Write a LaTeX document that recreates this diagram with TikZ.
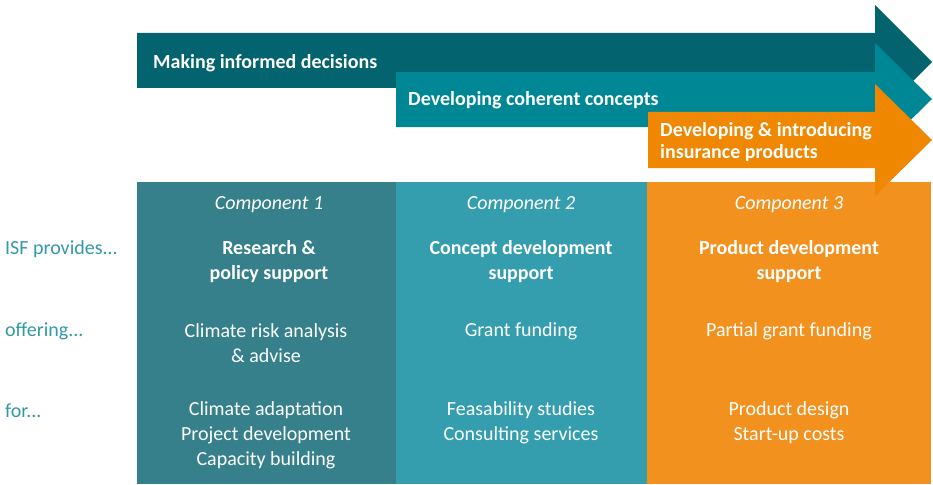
\documentclass[tikz,border=0pt]{standalone}
\usepackage{fontspec}
\setmainfont{Carlito}
\definecolor{arrA}{HTML}{03636E}
\definecolor{arrB}{HTML}{008796}
\definecolor{arrC}{HTML}{F08700}
\definecolor{boxA}{HTML}{35808A}
\definecolor{boxB}{HTML}{349EAE}
\definecolor{boxC}{HTML}{F3911E}
\definecolor{lbl}{HTML}{3399A6}
\begin{document}
\begin{tikzpicture}[x=1pt,y=-1pt,
  arrowtext/.style={text=white,font=\fontsize{20}{21.5}\selectfont\bfseries,anchor=west,align=left,inner sep=0pt},
  comp/.style={text=white,font=\fontsize{20}{25}\selectfont\itshape,inner sep=0pt},
  title/.style={text=white,font=\fontsize{20}{25}\selectfont\bfseries,align=center,inner sep=0pt},
  body/.style={text=white,font=\fontsize{20}{25}\selectfont,align=center,inner sep=0pt},
  side/.style={text=lbl,font=\fontsize{20}{25}\selectfont,anchor=west,inner sep=0pt},
  colbox/.style={rectangle,inner sep=0pt,outer sep=0pt,anchor=north west}]
\useasboundingbox (0,0) rectangle (933,484);
% arrows 1 and 2
\fill[arrA] (137,33) -- (875,33) -- (875,5) -- (932,62) -- (875,119) -- (875,88) -- (137,88) -- cycle;
\node[arrowtext] (a1) at (153,63) {Making informed decisions};
\fill[arrB] (396,72) -- (875,72) -- (875,43) -- (932,99) -- (875,155) -- (875,127) -- (396,127) -- cycle;
\node[arrowtext] (a2) at (408,100) {Developing coherent concepts};
% column boxes
\node[colbox,fill=boxA,minimum width=259pt,minimum height=302pt] (c1) at (137,182) {};
\node[colbox,fill=boxB,minimum width=251pt,minimum height=302pt] (c2) at (396,182) {};
\node[colbox,fill=boxC,minimum width=284pt,minimum height=302pt] (c3) at (647,182) {};
% arrow 3
\fill[arrC] (648,112) -- (875,112) -- (875,84) -- (932,140) -- (875,196) -- (875,168) -- (648,168) -- cycle;
\node[arrowtext] (a3) at (660,142) {Developing \& introducing\\insurance products};
% component labels
\node[comp] (k1) at (269,205) {Component 1};
\node[comp] (k2) at (521,205) {Component 2};
\node[comp] (k3) at (789,205) {Component 3};
% titles
\node[title] (t1) at (269,262) {Research \&\\policy support};
\node[title] (t2) at (521,262) {Concept development\\support};
\node[title] (t3) at (789,262) {Product development\\support};
% offering
\node[body] (o1) at (266,343) {Climate risk analysis\\\& advise};
\node[body] (o2) at (521,331) {Grant funding};
\node[body] (o3) at (789,331) {Partial grant funding};
% for
\node[body] (f1) at (266,435) {Climate adaptation\\Project development\\Capacity building};
\node[body] (f2) at (521,423) {Feasability studies\\Consulting services};
\node[body] (f3) at (789,423) {Product design\\Start-up costs};
% side labels
\node[side] (s1) at (5,249) {ISF provides...};
\node[side] (s2) at (5,331) {offering...};
\node[side] (s3) at (5,411) {for...};
\end{tikzpicture}
\end{document}
